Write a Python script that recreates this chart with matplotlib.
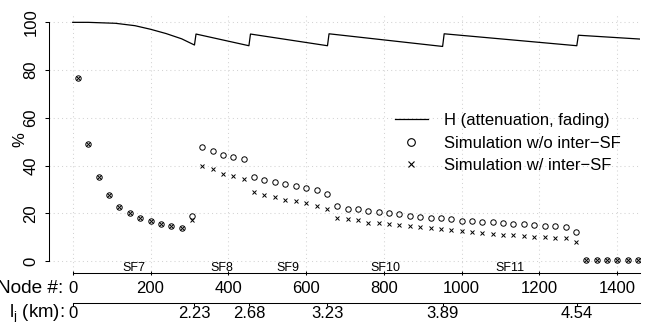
import matplotlib
matplotlib.use('Agg')
import matplotlib.pyplot as plt
from matplotlib.lines import Line2D

plt.rcParams['font.family'] = ['Liberation Sans', 'DejaVu Sans']
plt.rcParams['mathtext.fontset'] = 'custom'
plt.rcParams['mathtext.rm'] = 'Liberation Sans'
plt.rcParams['mathtext.it'] = 'Liberation Sans:italic'

# node index (bin centre) of each simulated point
node_pos = [13, 40, 67, 93, 120, 147, 173, 200, 227, 253, 280, 307,
            333, 360, 387, 413, 440,
            467, 493, 520, 547, 573, 600, 627, 653,
            680, 707, 733, 760, 787, 813, 840, 867, 893, 920, 947,
            973, 1000, 1027, 1053, 1080, 1107, 1133, 1160, 1187, 1213, 1240, 1267, 1293,
            1320, 1347, 1373, 1400, 1427, 1453]
# simulation without inter-SF interference (o)
sim_wo = [76.8, 49.0, 35.1, 27.5, 22.8, 20.1, 18.0, 16.6, 15.6, 14.8, 14.0, 18.7,
          47.9, 46.1, 44.5, 43.7, 42.7,
          35.3, 34.0, 33.2, 32.3, 31.5, 30.7, 29.8, 28.2,
          23.0, 21.8, 21.6, 20.9, 20.5, 20.1, 19.7, 19.0, 18.4, 18.1, 17.9,
          17.5, 16.9, 16.6, 16.5, 16.2, 15.9, 15.6, 15.4, 15.1, 14.8, 14.5, 14.1, 12.2,
          0.3, 0.3, 0.3, 0.3, 0.3, 0.3]
# simulation with inter-SF interference (x)
sim_w = [76.8, 49.0, 35.1, 27.5, 22.8, 20.1, 18.0, 16.6, 15.6, 14.8, 14.0, 17.2,
         39.9, 38.5, 36.6, 35.7, 34.2,
         28.8, 27.5, 26.6, 25.5, 25.0, 24.3, 22.9, 21.7,
         17.9, 17.5, 17.3, 16.0, 15.8, 15.4, 14.9, 14.7, 14.1, 13.8, 13.5,
         13.0, 12.5, 12.0, 11.6, 11.3, 11.0, 10.8, 10.5, 10.2, 10.0, 9.7, 9.5, 8.1,
         0.3, 0.3, 0.3, 0.3, 0.3, 0.3]
# H curve (attenuation, fading)
h_node = [0, 40, 110, 160, 200, 240, 280, 313, 317, 453, 457, 655, 659,
          951, 955, 1296, 1300, 1458]
h_pct = [100, 100, 99.6, 98.6, 97.1, 95.3, 93.1, 90.5, 95.1, 90.2, 95.1, 90.2, 95.2,
         89.9, 95.2, 90.2, 94.6, 93.0]

sf_names = ['SF7', 'SF8', 'SF9', 'SF10', 'SF11']
sf_bounds = [0, 313, 453, 655, 951, 1296]
sf_km = ['0', '2.23', '2.68', '3.23', '3.89', '4.54']
node_ticks = [0, 200, 400, 600, 800, 1000, 1200, 1400]
pct_ticks = [0, 20, 40, 60, 80, 100]
node_end = 1458

W, H = 652, 322
fig = plt.figure(figsize=(W / 100, H / 100), dpi=100)
ax = fig.add_axes([49 / W, (H - 270.5) / H, 591 / W, 257.7 / H])
ax.set_xlim(-61, 1458.5)
ax.set_ylim(-4, 104)

ax.grid(True, color='lightgray', linestyle=(0, (1, 3)), linewidth=0.75, zorder=0)

ax.plot(h_node, h_pct, color='black', linewidth=0.9, zorder=3)
ax.plot(node_pos, sim_wo, linestyle='none', marker='o', markersize=3.9,
        markerfacecolor='none', markeredgecolor='black', markeredgewidth=0.7, zorder=3)
ax.plot(node_pos, sim_w, linestyle='none', marker='x', markersize=3.4,
        color='black', markeredgewidth=0.7, zorder=3)

for i, name in enumerate(sf_names):
    ax.text((sf_bounds[i] + sf_bounds[i + 1]) / 2, -3.0, name, fontsize=9,
            ha='center', va='center')

for s in ['top', 'right']:
    ax.spines[s].set_visible(False)
ax.spines['left'].set_bounds(0, 100)
ax.spines['bottom'].set_position(('outward', 1.5))
ax.spines['bottom'].set_bounds(0, node_end)
for s in ['left', 'bottom']:
    ax.spines[s].set_linewidth(0.75)

ax.set_yticks(pct_ticks)
ax.set_xticks(node_ticks)
ax.tick_params(axis='y', direction='out', length=3.1, width=0.75, labelsize=12,
               pad=4.5, labelrotation=90)
for lab in ax.get_yticklabels():
    lab.set_va('center')
ax.tick_params(axis='x', direction='inout', length=3.2, width=0.75, labelsize=12, pad=4.8)

# km axis
ax2 = fig.add_axes([49 / W, (H - 302.7) / H, 591 / W, 0.0001])
ax2.set_xlim(ax.get_xlim())
ax2.set_yticks([])
for s in ['top', 'right', 'left']:
    ax2.spines[s].set_visible(False)
ax2.spines['bottom'].set_bounds(0, node_end)
ax2.spines['bottom'].set_linewidth(0.75)
ax2.set_xticks(sf_bounds)
ax2.set_xticklabels(sf_km)
ax2.tick_params(axis='x', direction='out', length=2.2, width=0.75, labelsize=12, pad=0.2)
ax2.patch.set_visible(False)

fig.text(63.5 / W, (H - 292.7) / H, 'Node #:', fontsize=13.7, ha='right', va='baseline')
fig.text(64.5 / W, (H - 317.5) / H, r'$\mathregular{l_j}$ (km):', fontsize=13.4,
         ha='right', va='baseline')
fig.text(20 / W, (H - 140) / H, '%', fontsize=12, rotation=90, ha='center', va='center')

handles = [Line2D([], [], color='black', linewidth=0.9),
           Line2D([], [], linestyle='none', marker='o', markersize=5.5,
                  markerfacecolor='none', markeredgecolor='black', markeredgewidth=0.8),
           Line2D([], [], linestyle='none', marker='x', markersize=5,
                  color='black', markeredgewidth=0.8)]
labels = ['H (attenuation, fading)', 'Simulation w/o inter\u2212SF',
          'Simulation w/ inter\u2212SF']
ax.legend(handles, labels, loc='upper left', bbox_to_anchor=(395 / W, (H - 113) / H),
          bbox_transform=fig.transFigure, frameon=False, fontsize=12, borderpad=0,
          borderaxespad=0, handlelength=1.95, handletextpad=1.0, labelspacing=0.45)

fig.savefig('out.png', dpi=100)
